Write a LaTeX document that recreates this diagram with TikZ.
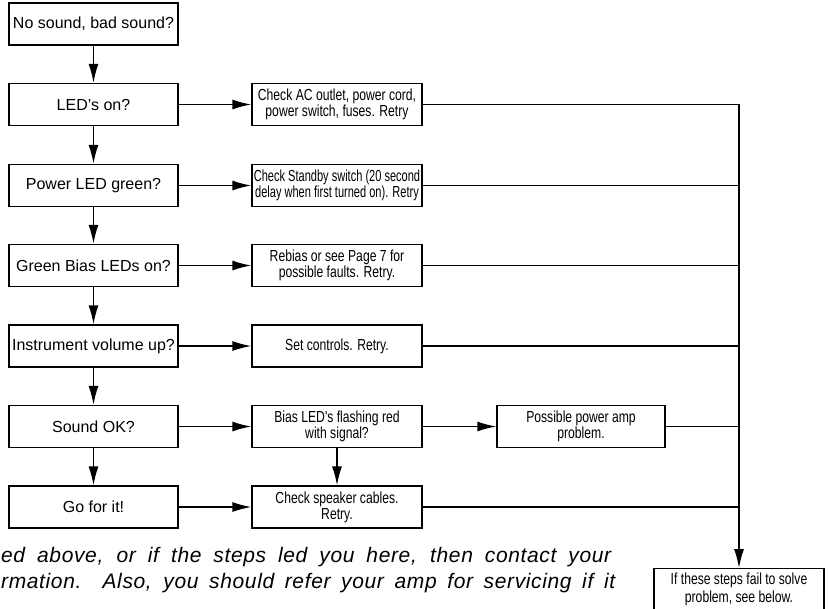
\documentclass[tikz,border=0pt]{standalone}
\usepackage{fontspec}
\setmainfont{Liberation Sans}
\newfontfamily\narrowfont[FakeStretch=0.76]{Liberation Sans}
\newfontfamily\tightfont[FakeStretch=0.69]{Liberation Sans}
\newfontfamily\notefont[LetterSpace=3]{Liberation Sans}
\usetikzlibrary{arrows.meta}

\begin{document}
\begin{tikzpicture}[x=1pt, y=-1pt, line width=1.4pt,
		question/.style={draw, minimum width=169pt, minimum height=42pt, inner sep=0pt, font=\fontsize{16}{19}\selectfont},
		action/.style={draw, minimum width=170pt, minimum height=42pt, inner sep=0pt, align=center, font=\narrowfont\fontsize{16}{16}\selectfont},
		note/.style={anchor=base west, inner sep=0pt, font=\notefont\itshape\fontsize{21}{26}\selectfont},
		arr/.style={-{Latex[length=19pt, width=10pt]}}]
		\useasboundingbox (0,0) rectangle (829,608);
		
		\node [question] (nosound) at (93.5, 24) {No sound, bad sound?};
		\node [question] (leds) at (93.5, 104.5) {LED's on?};
		\node [question] (powerled) at (93.5, 185.5) {Power LED green?};
		\node [question] (bias) at (93.5, 265.5) {Green Bias LEDs on?};
		\node [question] (volume) at (93.5, 346) {Instrument volume up?};
		\node [question] (soundok) at (93.5, 426.5) {Sound OK?};
		\node [question] (goforit) at (93.5, 507) {Go for it!};
		
		\node [action] (checkac) at (337, 104.5) {Check AC outlet, power cord,\\power switch, fuses. Retry};
		\node [action, font=\tightfont\fontsize{16}{16}\selectfont] (standby) at (337, 185.5) {Check Standby switch (20 second\\delay when first turned on). Retry};
		\node [action] (rebias) at (337, 265.5) {Rebias or see Page 7 for\\possible faults. Retry.};
		\node [action] (setctl) at (337, 346) {Set controls. Retry.};
		\node [action] (flashing) at (337, 426.5) {Bias LED's flashing red\\with signal?};
		\node [action] (speaker) at (337, 507) {Check speaker cables.\\Retry.};
		
		\node [action, minimum width=168pt] (poweramp) at (581, 426.5) {Possible power amp\\problem.};
		\node [action, anchor=north, font=\narrowfont\fontsize{16}{18}\selectfont] (fail) at (739, 568) {If these steps fail to solve\\problem, see below.};
		
		\draw [arr] (nosound) -- (leds);
		\draw [arr] (leds) -- (powerled);
		\draw [arr] (powerled) -- (bias);
		\draw [arr] (bias) -- (volume);
		\draw [arr] (volume) -- (soundok);
		\draw [arr] (soundok) -- (goforit);
		
		\draw [arr] (leds) -- (checkac);
		\draw [arr] (powerled) -- (standby);
		\draw [arr] (bias) -- (rebias);
		\draw [arr] (volume) -- (setctl);
		\draw [arr] (soundok) -- (flashing);
		\draw [arr] (goforit) -- (speaker);
		\draw [arr] (flashing) -- (speaker);
		\draw [arr] (flashing) -- (poweramp);
		
		\draw [arr] (checkac.east) -| (fail.north);
		\draw (standby.east) -- (standby.east -| fail.north);
		\draw (rebias.east) -- (rebias.east -| fail.north);
		\draw (setctl.east) -- (setctl.east -| fail.north);
		\draw (poweramp.east) -- (poweramp.east -| fail.north);
		\draw (speaker.east) -- (speaker.east -| fail.north);
		
		\node [note] (note1) at (0.5, 562) {\makebox[610pt][s]{ed above, or if the steps led you here, then contact your}};
		\node [note] (note2) at (0.5, 588) {\makebox[614pt][s]{rmation. Also, you should refer your amp for servicing if it}};
	\end{tikzpicture}
\end{document}
